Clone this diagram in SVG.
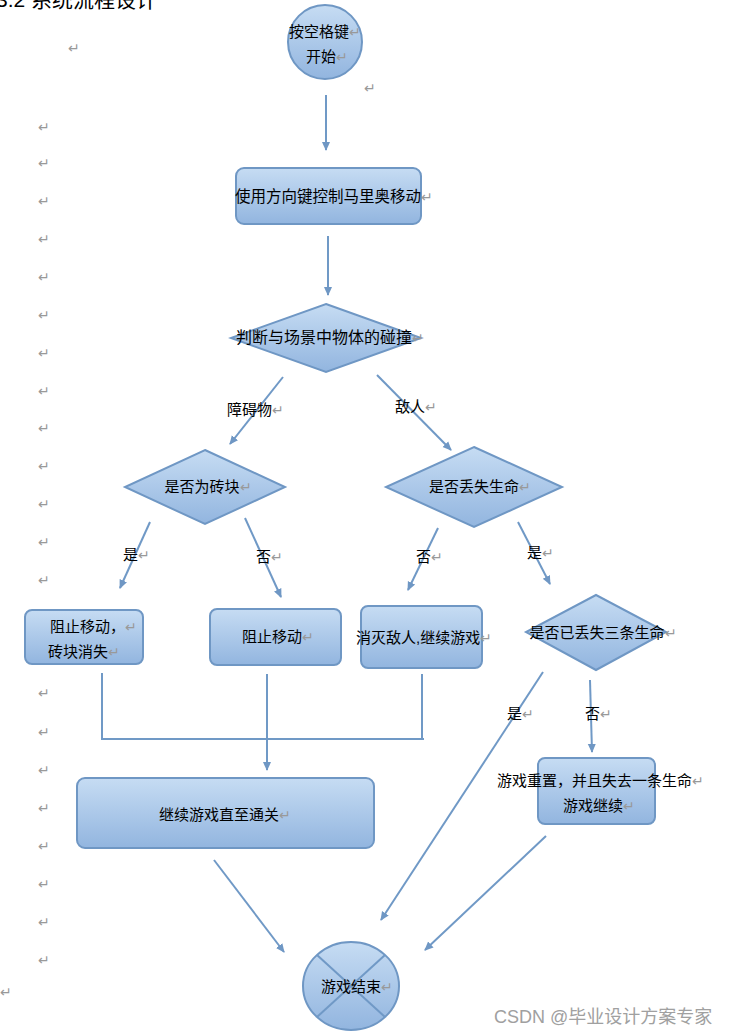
<svg xmlns="http://www.w3.org/2000/svg" width="739" height="1036" viewBox="0 0 739 1036">
<style>
.s{stroke:#6f97c4;stroke-width:2;fill:url(#g)}
.c{stroke:#7099c6;stroke-width:2;fill:none}
.a{marker-end:url(#ar)}
text{font-family:"Liberation Sans","Noto Sans CJK SC",sans-serif;font-size:15px;fill:#000}
.t{text-anchor:middle}
.p{fill:#999;font-size:14px}
</style>
<defs>
<linearGradient id="g" x1="0" y1="0" x2="0" y2="1"><stop offset="0" stop-color="#c6dcf3"/><stop offset="1" stop-color="#92b5df"/></linearGradient>
<marker id="ar" markerWidth="10" markerHeight="10" refX="8" refY="5" orient="auto" markerUnits="userSpaceOnUse"><path d="M0,1 L9,5 L0,9 Z" fill="#6f97c4"/></marker>
</defs>
<rect width="739" height="1036" fill="#fff"/>
<text x="-4" y="7" style="font-size:21px">3.2 系统流程设计</text>
<g class="pm">
<text class="p" x="68" y="53">↵</text><text class="p" x="364" y="93">↵</text>
<text class="p" x="38" y="132">↵</text><text class="p" x="38" y="168">↵</text><text class="p" x="38" y="206">↵</text><text class="p" x="38" y="244">↵</text><text class="p" x="38" y="282">↵</text><text class="p" x="38" y="320">↵</text><text class="p" x="38" y="358">↵</text><text class="p" x="38" y="396">↵</text><text class="p" x="38" y="433">↵</text><text class="p" x="38" y="471">↵</text><text class="p" x="38" y="509">↵</text><text class="p" x="38" y="547">↵</text><text class="p" x="38" y="585">↵</text>
<text class="p" x="38" y="698">↵</text><text class="p" x="38" y="737">↵</text><text class="p" x="38" y="775">↵</text><text class="p" x="38" y="813">↵</text><text class="p" x="38" y="851">↵</text><text class="p" x="38" y="889">↵</text><text class="p" x="38" y="927">↵</text><text class="p" x="38" y="965">↵</text><text class="p" x="0" y="997">↵</text>
</g>
<g id="connectors">
<line class="c a" x1="326" y1="95" x2="326" y2="150"/>
<line class="c a" x1="328" y1="236" x2="328" y2="295"/>
<line class="c a" x1="283" y1="377" x2="230" y2="444"/>
<line class="c a" x1="377" y1="375" x2="451" y2="450"/>
<line class="c a" x1="150" y1="522" x2="120" y2="588"/>
<line class="c a" x1="245" y1="518" x2="281" y2="597"/>
<line class="c a" x1="438" y1="528" x2="408" y2="590"/>
<line class="c a" x1="518" y1="522" x2="550" y2="584"/>
<polyline class="c" points="102,673 102,739 424,739"/>
<line class="c" x1="422" y1="674" x2="422" y2="739"/>
<line class="c a" x1="267" y1="674" x2="267" y2="770"/>
<line class="c a" x1="543" y1="672" x2="381" y2="920"/>
<line class="c a" x1="590" y1="680" x2="592" y2="752"/>
<line class="c a" x1="214" y1="860" x2="284" y2="952"/>
<line class="c a" x1="546" y1="836" x2="425" y2="950"/>
<text x="227" y="415">障碍物<tspan class="p">↵</tspan></text>
<text x="395" y="412">敌人<tspan class="p">↵</tspan></text>
<text x="123" y="560">是<tspan class="p">↵</tspan></text>
<text x="256" y="562">否<tspan class="p">↵</tspan></text>
<text x="416" y="562">否<tspan class="p">↵</tspan></text>
<text x="527" y="558">是<tspan class="p">↵</tspan></text>
<text x="507" y="719">是<tspan class="p">↵</tspan></text>
<text x="585" y="719">否<tspan class="p">↵</tspan></text>
</g>
<g id="start"><circle class="s" cx="325" cy="42" r="37"/><text class="t" x="325" y="37">按空格键<tspan class="p">↵</tspan></text><text class="t" x="327" y="62">开始<tspan class="p">↵</tspan></text></g>
<g id="move"><rect class="s" x="236" y="168" width="185" height="56" rx="8"/><text class="t" x="334" y="202" style="font-size:15.5px">使用方向键控制马里奥移动<tspan class="p">↵</tspan></text></g>
<g id="collide"><polygon class="s" points="326,304 421,338 326,372 231,338"/><text class="t" x="330" y="343" style="font-size:16px">判断与场景中物体的碰撞<tspan class="p">↵</tspan></text></g>
<g id="brick"><polygon class="s" points="205,450 285,487 205,524 125,487"/><text class="t" x="208" y="492">是否为砖块<tspan class="p">↵</tspan></text></g>
<g id="life"><polygon class="s" points="474,447 562,487 474,527 386,487"/><text class="t" x="480" y="492">是否丢失生命<tspan class="p">↵</tspan></text></g>
<g id="b1"><rect class="s" x="25" y="610" width="118" height="54" rx="7"/><text x="50" y="632">阻止移动，<tspan class="p">↵</tspan></text><text x="48" y="657">砖块消失<tspan class="p">↵</tspan></text></g>
<g id="b2"><rect class="s" x="210" y="609" width="131" height="56" rx="7"/><text class="t" x="278" y="642">阻止移动<tspan class="p">↵</tspan></text></g>
<g id="b3"><rect class="s" x="361" y="606" width="121" height="62" rx="7"/><text x="356" y="643">消灭敌人,继续游戏<tspan class="p">↵</tspan></text></g>
<g id="three"><polygon class="s" points="596,595 666,632 596,670 526,632"/><text class="t" x="603" y="638">是否已丢失三条生命<tspan class="p">↵</tspan></text></g>
<g id="cont"><rect class="s" x="77" y="778" width="297" height="70" rx="8"/><text class="t" x="225" y="820">继续游戏直至通关<tspan class="p">↵</tspan></text></g>
<g id="reset"><rect class="s" x="538" y="758" width="117" height="66" rx="7"/><text x="497" y="786">游戏重置，并且失去一条生命<tspan class="p">↵</tspan></text><text x="563" y="811">游戏继续<tspan class="p">↵</tspan></text></g>
<g id="end"><ellipse class="s" cx="351" cy="986" rx="48" ry="44"/><line class="c" x1="317" y1="955" x2="385" y2="1017"/><line class="c" x1="385" y1="955" x2="317" y2="1017"/><text class="t" x="357" y="992">游戏结束<tspan class="p">↵</tspan></text></g>
<text x="494" y="1023" style="font-size:18px;fill:#a0a0a0">CSDN @毕业设计方案专家</text>
</svg>
